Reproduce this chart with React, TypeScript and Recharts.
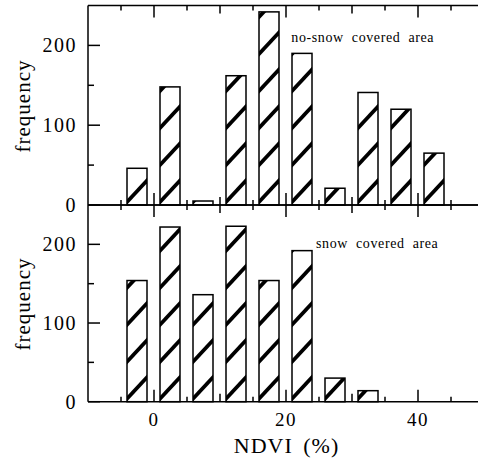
import React from 'react';
import { BarChart, Bar, XAxis, YAxis } from 'recharts';

const ndviBins = [-2.5, 2.5, 7.5, 12.5, 17.5, 22.5, 27.5, 32.5, 37.5, 42.5];
const noSnowFreq = [46, 148, 5, 162, 242, 190, 21, 141, 120, 65];
const snowFreq = [154, 222, 136, 223, 154, 192, 30, 14, 0, 0];
const xTicks = [-5, 0, 5, 10, 15, 20, 25, 30, 35, 40, 45];
const xTickLabels = [0, 20, 40];
const yTicks = [0, 50, 100, 150, 200];
const yTickLabels = [0, 100, 200];
const panelTitles = ['no-snow covered area', 'snow covered area'];
const yLabel = 'frequency';
const xLabel = 'NDVI (%)';

const noSnowData = ndviBins.map((v, i) => ({ ndvi: v, freq: noSnowFreq[i] }));
const snowData = ndviBins.map((v, i) => ({ ndvi: v, freq: snowFreq[i] }));

const FONT = "'Liberation Serif', 'DejaVu Serif', 'Times New Roman', serif";

const xLen = (v: number) => (v % 20 === 0 ? 12 : v % 10 === 0 ? 8 : 5);
const yLen = (v: number) => (v % 100 === 0 ? 12 : 6);

const TopTick = (props: any) => {
  const { x, y, payload } = props;
  return <line x1={x} x2={x} y1={y} y2={y + xLen(payload.value)} stroke="#000" strokeWidth={1.5} />;
};

const makeBottomTick = (showLabel: boolean) => (props: any) => {
  const { x, y, payload } = props;
  const v = payload.value;
  return (
    <g>
      <line x1={x} x2={x} y1={y} y2={y - xLen(v)} stroke="#000" strokeWidth={1.5} />
      {showLabel && xTickLabels.includes(v) ? (
        <text x={x} y={y + 24.5} textAnchor="middle" fontFamily={FONT} fontSize={19} letterSpacing={1.5} fill="#000">
          {v}
        </text>
      ) : null}
    </g>
  );
};

const LeftTick = (props: any) => {
  const { x, y, payload } = props;
  const v = payload.value;
  return (
    <g>
      <line x1={x} x2={x + yLen(v)} y1={y} y2={y} stroke="#000" strokeWidth={1.5} />
      {yTickLabels.includes(v) ? (
        <text x={x - 11} y={y + 6.8} textAnchor="end" fontFamily={FONT} fontSize={20} letterSpacing={1.5} fill="#000">
          {v}
        </text>
      ) : null}
    </g>
  );
};

const RightTick = (props: any) => {
  const { x, y, payload } = props;
  return <line x1={x - yLen(payload.value)} x2={x} y1={y} y2={y} stroke="#000" strokeWidth={1.5} />;
};

const makeHatchedBar = (prefix: string) => (props: any) => {
  const { x, y, width, height, index } = props;
  if (!height || height <= 0) return <g />;
  const id = `${prefix}-clip-${index}`;
  const tan = Math.tan((47 * Math.PI) / 180);
  const period = 37;
  const yb = y + height;
  const lines: any[] = [];
  for (let k = 0; k * period < height + width * tan + period; k++) {
    const y0 = yb - 3 - k * period;
    lines.push(
      <line
        key={k}
        x1={x - 3}
        y1={y0 + 3 * tan}
        x2={x + width + 3}
        y2={y0 - (width + 3) * tan}
        stroke="#000"
        strokeWidth={3.8}
      />
    );
  }
  return (
    <g>
      <defs>
        <clipPath id={id}>
          <rect x={x} y={y} width={width} height={height} />
        </clipPath>
      </defs>
      <rect x={x} y={y} width={width} height={height} fill="#fff" />
      <g clipPath={`url(#${id})`}>{lines}</g>
      <rect x={x} y={y} width={width} height={height} fill="none" stroke="#000" strokeWidth={1.5} />
    </g>
  );
};

const axisLineStyle = { stroke: '#000', strokeWidth: 1.5 };

function Panel(props: {
  data: any[];
  height: number;
  margin: any;
  title: string;
  titleX: number;
  titleY: number;
  labelY: number;
  prefix: string;
  bottomLabels: boolean;
}) {
  const { data, height, margin, title, titleX, titleY, labelY, prefix, bottomLabels } = props;
  return (
    <BarChart width={520} height={height} data={data} margin={margin}>
      <XAxis
        dataKey="ndvi"
        type="number"
        domain={[-10, 50]}
        ticks={xTicks}
        interval={0}
        height={1}
        tickSize={0}
        tickMargin={0}
        axisLine={axisLineStyle}
        tickLine={false}
        tick={makeBottomTick(bottomLabels)}
      />
      <XAxis
        xAxisId="top"
        orientation="top"
        dataKey="ndvi"
        type="number"
        domain={[-10, 50]}
        ticks={xTicks}
        interval={0}
        height={1}
        tickSize={0}
        tickMargin={0}
        axisLine={axisLineStyle}
        tickLine={false}
        tick={TopTick}
      />
      <YAxis
        type="number"
        domain={[0, 250]}
        ticks={yTicks}
        interval={0}
        width={1}
        tickSize={0}
        tickMargin={0}
        axisLine={axisLineStyle}
        tickLine={false}
        tick={LeftTick}
      />
      <YAxis
        yAxisId="right"
        orientation="right"
        type="number"
        domain={[0, 250]}
        ticks={yTicks}
        interval={0}
        width={1}
        tickSize={0}
        tickMargin={0}
        axisLine={axisLineStyle}
        tickLine={false}
        tick={RightTick}
      />
      <Bar dataKey="freq" barSize={20} isAnimationActive={false} shape={makeHatchedBar(prefix)} />
      <text x={titleX} y={titleY} fontFamily={FONT} fontSize={14} letterSpacing={0.6} wordSpacing={4} fill="#000">
        {title}
      </text>
      <text
        x={30}
        y={labelY}
        textAnchor="middle"
        fontFamily={FONT}
        fontSize={21}
        letterSpacing={1}
        fill="#000"
        transform={`rotate(-90, 30, ${labelY})`}
      >
        {yLabel}
      </text>
      {bottomLabels ? (
        <text x={286.5} y={height - 9.7} textAnchor="middle" fontFamily={FONT} fontSize={22} letterSpacing={1} wordSpacing={4} fill="#000">
          {xLabel}
        </text>
      ) : null}
    </BarChart>
  );
}

export default function App() {
  return (
    <div style={{ position: 'absolute', left: 0, top: 0, width: 478, height: 463, overflow: 'hidden', background: '#fff' }}>
      <div style={{ position: 'absolute', left: 0, top: 0 }}>
        <Panel
          data={noSnowData}
          height={215}
          margin={{ top: 4.5, right: 35, bottom: 9, left: 87 }}
          title={panelTitles[0]}
          titleX={291.3}
          titleY={41.7}
          labelY={106}
          prefix="top"
          bottomLabels={false}
        />
      </div>
      <div style={{ position: 'absolute', left: 0, top: 190 }}>
        <Panel
          data={snowData}
          height={273}
          margin={{ top: 14, right: 35, bottom: 60.3, left: 87 }}
          title={panelTitles[1]}
          titleX={316}
          titleY={57.5}
          labelY={114}
          prefix="bot"
          bottomLabels={true}
        />
      </div>
    </div>
  );
}
